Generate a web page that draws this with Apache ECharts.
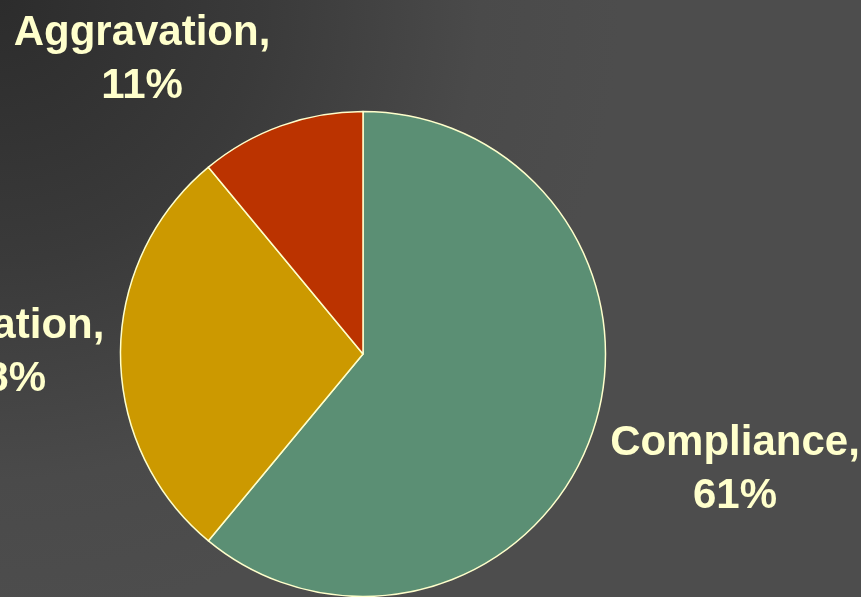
<!DOCTYPE html>
<html>
<head>
<meta charset="utf-8">
<script src="https://cdn.jsdelivr.net/npm/echarts@6/dist/echarts.min.js"></script>
<style>
html,body{margin:0;padding:0;}
#main{width:861px;height:597px;background:radial-gradient(circle at 0 0,#2c2c2c 0px,#3a3a3a 260px,#4a4a4a 480px,#4d4d4d 620px);}
</style>
</head>
<body>
<div id="main"></div>
<script>
const categories = ['Compliance', 'Deviation', 'Aggravation'];
const values = [61, 28, 11];
const colors = ['#5b8f74', '#cc9900', '#bb3300'];
const labelCenters = [[735, 470], [4, 353], [142, 60]];

const chart = echarts.init(document.getElementById('main'), null, {renderer: 'canvas'});
chart.setOption({
  backgroundColor: 'transparent',
  animation: false,
  series: [{
    type: 'pie',
    center: [363, 354],
    radius: [0, 242.5],
    startAngle: 90,
    clockwise: true,
    data: categories.map((c, i) => ({name: c, value: values[i], itemStyle: {color: colors[i]}})),
    itemStyle: {borderColor: '#ffffcc', borderWidth: 1.5},
    label: {
      show: true,
      position: 'outside',
      formatter: p => p.name + ',\n' + p.value + '%',
      color: '#ffffcc',
      fontFamily: 'Liberation Sans, Arial, sans-serif',
      fontWeight: 'bold',
      fontSize: 42,
      lineHeight: 53,
      align: 'center',
      overflow: 'none',
      width: 400
    },
    labelLine: {show: false},
    labelLayout: p => ({x: labelCenters[p.dataIndex][0], y: labelCenters[p.dataIndex][1], align: 'center', verticalAlign: 'middle'}),
    emphasis: {disabled: true}
  }]
});
</script>
</body>
</html>
